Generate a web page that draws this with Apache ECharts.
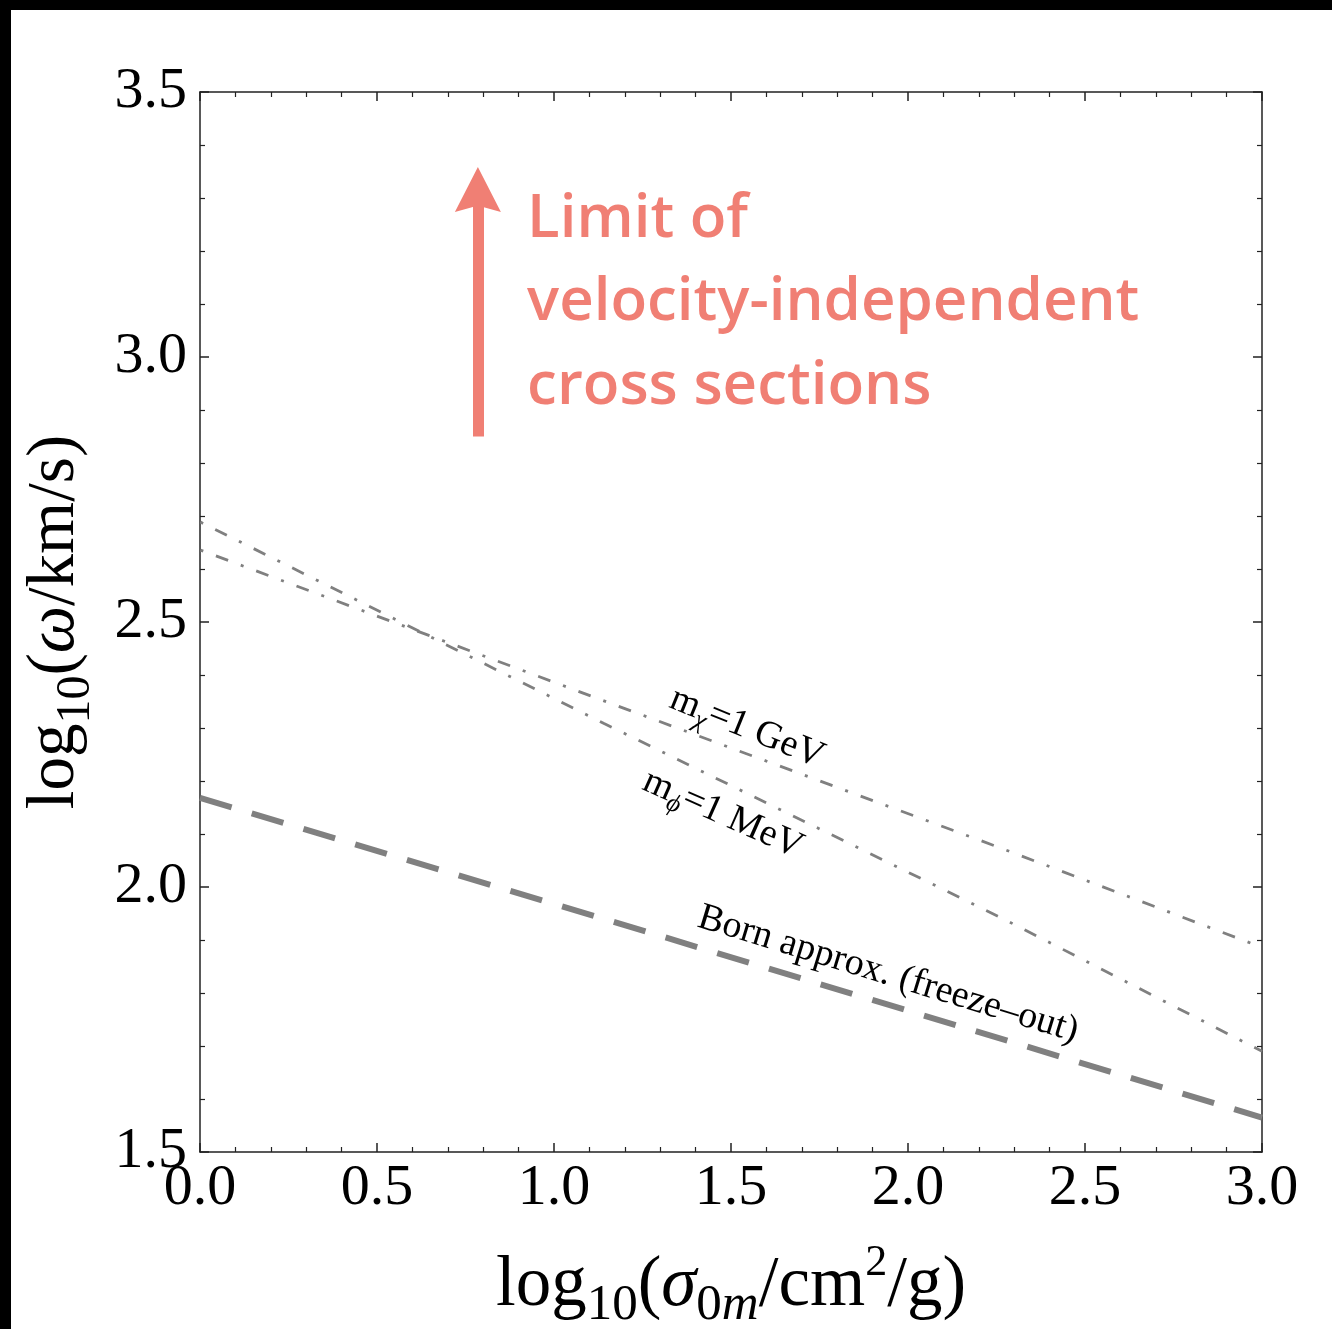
<!DOCTYPE html>
<html>
<head>
<meta charset="utf-8">
<script src="https://cdn.jsdelivr.net/npm/echarts@6/dist/echarts.min.js"></script>
<style>
  html, body { margin: 0; padding: 0; background: #fff; }
  #chart { width: 1332px; height: 1329px; }
</style>
</head>
<body>
<div id="chart"></div>
<script>
// tick labels
const xTickLabels = ['0.0', '0.5', '1.0', '1.5', '2.0', '2.5', '3.0'];
const yTickLabels = ['1.5', '2.0', '2.5', '3.0', '3.5'];

// curves: [log10(sigma0m), log10(w)]
const mChiLine = [[0, 2.636], [1.15, 2.349], [2.26, 2.074], [3, 1.886]];
const mPhiLine = [[0, 2.689], [1.14, 2.309], [2.26, 1.943], [3, 1.69]];
const bornLine = [[0, 2.168], [1.19, 1.93], [3, 1.565]];

// "limit" arrow, from tail to head centre
const limitArrow = [[0.785, 2.85], [0.785, 3.316]];

const serif = "'Liberation Serif', 'Times New Roman', serif";
const grey = '#808080';
const salmon = '#F07F74';
const axisColor = '#222';

function makeNameRich(size) {
  const sub = Math.round(size * 0.72), sup = Math.round(size * 0.62);
  return {
    n: { fontSize: size, lineHeight: 90, fontFamily: serif, color: '#000' },
    i: { fontSize: size, lineHeight: 90, fontFamily: serif, fontStyle: 'italic', color: '#000' },
    sub: { fontSize: sub, lineHeight: sub, verticalAlign: 'bottom', fontFamily: serif, color: '#000' },
    subi: { fontSize: sub, lineHeight: sub, verticalAlign: 'bottom', fontFamily: serif, fontStyle: 'italic', color: '#000' },
    sup: { fontSize: sup, lineHeight: 54, verticalAlign: 'top', fontFamily: serif, color: '#000' }
  };
}

const labelRich = {
  b: { fontSize: 38, lineHeight: 48, fontFamily: serif, color: '#000' },
  s: { fontSize: 26, lineHeight: 26, verticalAlign: 'bottom', fontFamily: serif, fontStyle: 'italic', color: '#000' }
};

// where the curve labels sit (data coords) and their tilt in degrees
const curveLabels = [
  { at: [1.545, 2.300], angle: 22, text: '{b|m}{s|χ}{b|=1 GeV}' },
  { at: [1.477, 2.137], angle: 24, text: '{b|m}{s|ϕ}{b|=1 MeV}' },
  { at: [1.944, 1.835], angle: 17, text: '{b|Born approx. (freeze–out)}' }
];
const noteText = 'Limit of\nvelocity-independent\ncross sections';
const noteAt = [0.924, 3.338];

function baseAxis(extra) {
  return Object.assign({
    type: 'value',
    axisLine: { show: true, onZero: false, lineStyle: { color: axisColor, width: 1.5 } },
    axisTick: { show: true, inside: true, length: 9, lineStyle: { color: axisColor, width: 1.5 } },
    minorTick: { show: true, splitNumber: 5, length: 5, lineStyle: { color: axisColor, width: 1.2 } },
    splitLine: { show: false },
    minorSplitLine: { show: false }
  }, extra);
}

const chart = echarts.init(document.getElementById('chart'));

const option = {
  animation: false,
  backgroundColor: '#fff',
  grid: { left: 200, right: 70, top: 92, bottom: 177, outerBoundsMode: 'none', containLabel: false },
  xAxis: [
    baseAxis({
      min: 0, max: 3, interval: 0.5, position: 'bottom',
      axisLabel: {
        margin: 8, fontFamily: serif, fontSize: 58, color: '#000',
        formatter: v => xTickLabels[Math.round(v / 0.5)]
      },
      name: '{n|log}{sub|10}{n|(}{i|σ}{sub|0}{subi|m}{n|/cm}{sup|2}{n|/g)}',
      nameLocation: 'middle', nameGap: 89,
      nameTextStyle: { rich: makeNameRich(71) }
    }),
    baseAxis({ min: 0, max: 3, interval: 0.5, position: 'top', axisLabel: { show: false } })
  ],
  yAxis: [
    baseAxis({
      min: 1.5, max: 3.5, interval: 0.5, position: 'left',
      axisLabel: {
        margin: 13, fontFamily: serif, fontSize: 58, color: '#000',
        padding: [0, 0, 10, 0],
        formatter: v => yTickLabels[Math.round((v - 1.5) / 0.5)]
      },
      name: '{n|log}{sub|10}{n|(}{i|ω}{n|/km/s)}',
      nameLocation: 'middle', nameGap: 100, nameRotate: 90,
      nameTextStyle: { rich: makeNameRich(67) }
    }),
    baseAxis({ min: 1.5, max: 3.5, interval: 0.5, position: 'right', axisLabel: { show: false } })
  ],
  series: [
    {
      name: 'mchi', type: 'line', data: mChiLine, symbol: 'none',
      lineStyle: { color: grey, width: 2.8, type: [13, 13.5, 3, 13.5], dashOffset: 26 }
    },
    {
      name: 'mphi', type: 'line', data: mPhiLine, symbol: 'none',
      lineStyle: { color: grey, width: 2.8, type: [13, 13.5, 3, 13.5], dashOffset: 26 }
    },
    {
      name: 'born', type: 'line', data: bornLine, symbol: 'none',
      lineStyle: { color: grey, width: 6, type: [33, 21] },
      markLine: {
        silent: true, animation: false,
        symbol: ['none', 'path://M23,0 L46,45 L28,40 L18,40 L0,45 Z'],
        symbolSize: [46, 45],
        label: { show: false },
        itemStyle: { color: salmon },
        lineStyle: { color: salmon, width: 11, type: 'solid' },
        emphasis: { disabled: true },
        data: [[{ coord: limitArrow[0] }, { coord: limitArrow[1] }]]
      }
    }
  ]
};

chart.setOption(option);

// border strip + texts placed from data coordinates
const graphics = [
  { type: 'rect', shape: { x: 0, y: 0, width: 1332, height: 10 }, style: { fill: '#000' }, z: 100 },
  { type: 'rect', shape: { x: 0, y: 0, width: 11, height: 1329 }, style: { fill: '#000' }, z: 100 }
];
curveLabels.forEach(l => {
  const p = chart.convertToPixel({ gridIndex: 0 }, l.at);
  graphics.push({
    type: 'text', x: p[0], y: p[1], rotation: -l.angle * Math.PI / 180, z: 50,
    style: { text: l.text, rich: labelRich, align: 'center', verticalAlign: 'middle' }
  });
});
const np = chart.convertToPixel({ gridIndex: 0 }, noteAt);
graphics.push({
  type: 'text', x: np[0], y: np[1], z: 50,
  style: {
    text: noteText, fill: salmon, fontFamily: "'Open Sans', sans-serif", fontWeight: 600,
    fontSize: 60, lineHeight: 83.5, align: 'left', verticalAlign: 'top'
  }
});
chart.setOption({ graphic: graphics });
</script>
</body>
</html>
